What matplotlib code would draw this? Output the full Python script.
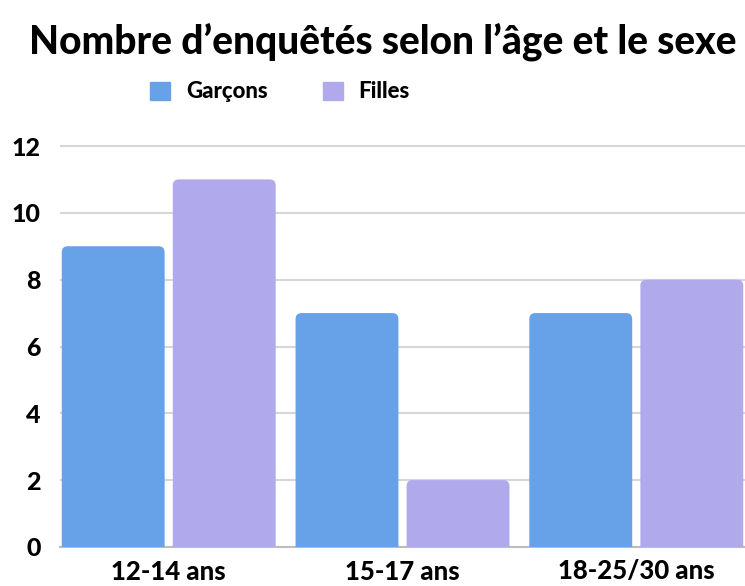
import matplotlib
matplotlib.use("Agg")
import matplotlib.pyplot as plt
from matplotlib.patches import FancyBboxPatch, Patch
import numpy as np

categories = ["12-14 ans", "15-17 ans", "18-25/30 ans"]
garcons = [9, 7, 7]
filles = [11, 2, 8]
series_names = ["Garçons", "Filles"]
yticks = [0, 2, 4, 6, 8, 10, 12]

c_g = "#67A2E8"
c_f = "#B0A9EC"

plt.rcParams['font.family'] = ['Lato', 'DejaVu Sans']

fig = plt.figure(figsize=(7.45, 5.86), dpi=100)
ax = fig.add_axes([60/745, 1-547/586, 1-60/745, (547-145)/586])

x = np.arange(len(categories))
w = 0.44
gap = 0.035
ax.set_xlim(-0.465, 2.465)
ax.set_ylim(0, 12.03)

xpx = 234.0
ypx = 33.5
r = 6/xpx
aspect = xpx/ypx

for vals, off, col, name in [(garcons, -(w+gap)/2, c_g, series_names[0]), (filles, (w+gap)/2, c_f, series_names[1])]:
    bars = ax.bar(x + off, vals, w, color=col, label=name)
    for b in bars:
        b.set_visible(False)
        fb = FancyBboxPatch((b.get_x(), -0.5), b.get_width(), b.get_height()+0.5,
                            boxstyle=f"round,pad=0,rounding_size={r}",
                            mutation_aspect=aspect, fc=col, ec="none", zorder=3)
        ax.add_patch(fb)

ax.set_yticks(yticks)
ax.set_yticklabels([str(t) for t in yticks], fontsize=18, fontweight="black")
ax.set_xticks(x)
ax.set_xticklabels(categories, fontsize=18.5, fontweight="black")
ax.tick_params(axis="both", length=0)
ax.tick_params(axis="y", pad=14)
ax.tick_params(axis="x", pad=9)
ax.yaxis.grid(True, color="#D6D6D6", linewidth=1.5, zorder=0)
ax.set_axisbelow(True)
for s in ["top", "right", "left"]:
    ax.spines[s].set_visible(False)
ax.spines["bottom"].set_color("#BDBDBD")
ax.spines["bottom"].set_linewidth(1.5)

fig.text(383/745, 1-42/586, "Nombre d\u2019enquêtés selon l\u2019âge et le sexe",
         ha="center", va="center", fontsize=28, fontweight="black")

handles = [Patch(color=c_g), Patch(color=c_f)]
leg = fig.legend(handles, series_names, loc="center", bbox_to_anchor=(280/745, 1-92/586),
                 ncol=2, frameon=False, handlelength=0.9, handleheight=0.9,
                 columnspacing=2.5, handletextpad=0.7,
                 prop={"weight": "black", "size": 16})

fig.savefig("out.png", dpi=100, facecolor="white")
